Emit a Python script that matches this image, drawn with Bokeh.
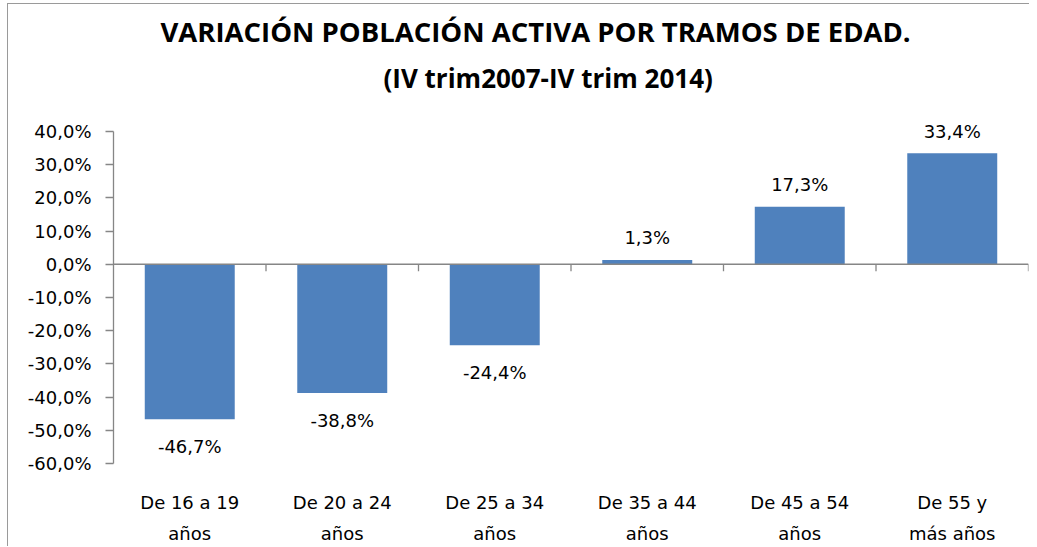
from bokeh.plotting import figure
from bokeh.models import Span, Title, FixedTicker, ColumnDataSource
from bokeh.embed import file_html
from bokeh.resources import INLINE
from bokeh.core.properties import value

categories = ["De 16 a 19\naños", "De 20 a 24\naños", "De 25 a 34\naños",
              "De 35 a 44\naños", "De 45 a 54\naños", "De 55 y\nmás años"]
values = [-46.7, -38.8, -24.4, 1.3, 17.3, 33.4]
y_ticks = [-60, -50, -40, -30, -20, -10, 0, 10, 20, 30, 40]

BAR = "#4F81BD"
AXIS = "#868686"
FONT = "DejaVu Sans"

n = len(categories)
xs = [i + 0.5 for i in range(n)]
labels = [("%.1f%%" % v).replace(".", ",") for v in values]
pos = [v >= 0 for v in values]

p = figure(width=1022, height=543, x_range=(0, n), y_range=(-60, 46.9),
           output_backend="svg", toolbar_location=None,
           min_border_left=105, min_border_right=2, min_border_top=104,
           min_border_bottom=81)
p.title = None
p.outline_line_color = None
p.xgrid.visible = False
p.ygrid.visible = False

sub = Title(text="(IV trim2007-IV trim 2014)", align="left",
            text_font="Open Sans", text_font_style="bold",
            text_font_size="26px", text_color="black", standoff=26, offset=270)
main = Title(text="VARIACIÓN POBLACIÓN ACTIVA POR TRAMOS DE EDAD.", align="left",
             text_font="Open Sans", text_font_style="bold",
             text_font_size="27.5px", text_color="black", offset=47)
try:
    main.standoff = -10
except Exception:
    main.standoff = 0
p.add_layout(sub, "above")
p.add_layout(main, "above")

src = ColumnDataSource(dict(x=xs, top=values, lab=labels))
p.vbar(x="x", top="top", bottom=0, width=0.59, source=src,
       fill_color=BAR, line_color=None)

# zero line and category boundary ticks
p.add_layout(Span(location=0, dimension="width", line_color=AXIS, line_width=1.3))
bx = list(range(1, n + 1))
p.segment(x0=bx, y0=[0] * n, x1=bx, y1=[-2.1] * n, line_color=AXIS, line_width=1.3)

pos_src = ColumnDataSource(dict(x=[x for x, q in zip(xs, pos) if q],
                                y=[v for v, q in zip(values, pos) if q],
                                t=[l for l, q in zip(labels, pos) if q]))
neg_src = ColumnDataSource(dict(x=[x for x, q in zip(xs, pos) if not q],
                                y=[v for v, q in zip(values, pos) if not q],
                                t=[l for l, q in zip(labels, pos) if not q]))
p.text(x="x", y="y", text="t", source=pos_src, y_offset=-22,
       text_align="center", text_baseline="middle",
       text_font=value(FONT), text_font_size="18px", text_color="black")
p.text(x="x", y="y", text="t", source=neg_src, y_offset=27,
       text_align="center", text_baseline="middle",
       text_font=value(FONT), text_font_size="18px", text_color="black")

# y axis
ya = p.yaxis[0]
ya.ticker = FixedTicker(ticks=y_ticks)
ya.bounds = (-60, 40)
ya.major_label_overrides = {t: ("%.1f%%" % t).replace(".", ",") for t in y_ticks}
ya.axis_line_color = AXIS
ya.axis_line_width = 1.3
ya.major_tick_line_color = AXIS
ya.major_tick_line_width = 1.3
ya.major_tick_in = 0
ya.major_tick_out = 8
ya.minor_tick_line_color = None
ya.major_label_standoff = 14
ya.major_label_text_font = FONT
ya.major_label_text_font_size = "18px"
ya.major_label_text_color = "black"

# x axis (labels only)
xa = p.xaxis[0]
xa.ticker = FixedTicker(ticks=xs)
xa.major_label_overrides = {x: c for x, c in zip(xs, categories)}
xa.axis_line_color = None
xa.major_tick_line_color = None
xa.minor_tick_line_color = None
xa.major_label_standoff = 22
xa.major_label_text_font = FONT
xa.major_label_text_font_size = "18px"
xa.major_label_text_color = "black"
xa.major_label_text_line_height = 1.5

p.styles = {"margin-left": "7px", "margin-top": "3px",
            "border-left": "1px solid #9a9a9a", "border-top": "1px solid #9a9a9a"}

open("out.html", "w").write(file_html(p, INLINE))
